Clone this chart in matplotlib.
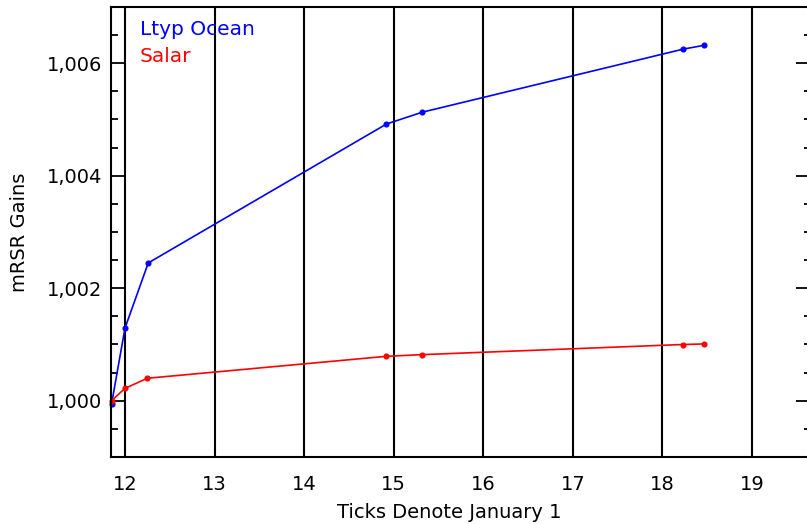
import matplotlib
matplotlib.use("Agg")
import matplotlib.pyplot as plt
from matplotlib.ticker import FuncFormatter, MultipleLocator

plt.rcParams['font.family'] = ['DejaVu Sans']

# Data
ocean_x = [11.85, 12.00, 12.26, 14.92, 15.32, 18.23, 18.47]
ocean_y = [0.99994, 1.00129, 1.00245, 1.00492, 1.00513, 1.00625, 1.00632]
solar_x = [11.85, 12.00, 12.25, 14.92, 15.32, 18.23, 18.47]
solar_y = [1.00000, 1.00022, 1.00040, 1.00079, 1.00082, 1.00100, 1.00101]
year_ticks = [12, 13, 14, 15, 16, 17, 18, 19]
series_names = ["Ltyp Ocean", "Salar"]

fig = plt.figure(figsize=(8.07, 5.24), dpi=100)
ax = fig.add_axes([111/807, 67/524, 700/807, 450/524])

ax.plot(ocean_x, ocean_y, color='#0000ff', lw=1.2, marker='o', ms=3.4, clip_on=False)
ax.plot(solar_x, solar_y, color='#ff0000', lw=1.2, marker='o', ms=3.4, clip_on=False)

ax.set_xlim(11.844, 19.66)
ax.set_ylim(0.999, 1.007)

ax.set_xticks(year_ticks)
ax.set_xticklabels([str(t) for t in year_ticks])
ax.tick_params(axis='x', length=0, pad=13, labelsize=14)
ax.grid(axis='x', color='black', linewidth=1.5)

ax.yaxis.set_major_locator(MultipleLocator(0.002))
ax.yaxis.set_minor_locator(MultipleLocator(0.0005))
ax.yaxis.set_major_formatter(FuncFormatter(lambda v, p: f"{v:.3f}".replace('.', ',')))
ax.tick_params(axis='y', which='major', direction='in', length=10.5, width=1.3,
               left=True, right=True, pad=6.5, labelsize=14)
ax.tick_params(axis='y', which='minor', direction='in', length=5.2, width=1.3,
               left=True, right=True)

for s in ax.spines.values():
    s.set_linewidth(1.5)

ax.text(0.041, 0.95, series_names[0], color='#0000ff', fontsize=14.5, transform=ax.transAxes, va='center')
ax.text(0.041, 0.89, series_names[1], color='#ff0000', fontsize=14.5, transform=ax.transAxes, va='center')

fig.text(449/807, 1 - 512/524, "Ticks Denote January 1", ha='center', va='center', fontsize=14)
fig.text(20/807, 1 - 232/524, "mRSR Gains", ha='center', va='center', rotation=90, fontsize=14)

fig.savefig("out.png", dpi=100)
